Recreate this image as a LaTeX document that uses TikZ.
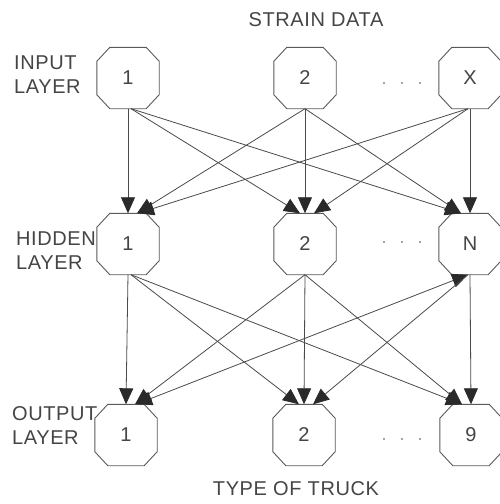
\documentclass[tikz,border=0pt]{standalone}
\usepackage{fontspec}
\setmainfont{Liberation Sans}[LetterSpace=3]
\usetikzlibrary{arrows.meta}
\definecolor{inkline}{HTML}{4A4A4A}
\definecolor{inkhead}{HTML}{2A2A2A}
\definecolor{inktext}{HTML}{454545}
\definecolor{inkbox}{HTML}{5A5A5A}
\begin{document}
\begin{tikzpicture}[x=1pt,y=-1pt,
  neuron/.style={shape=rectangle, minimum width=62pt, minimum height=61pt, inner sep=0pt,
    font=\fontsize{20}{22}\selectfont, text=inktext},
  octo/.style={draw=inkbox, line width=0.9pt, line join=round},
  lbl/.style={font=\fontsize{20}{24}\selectfont, text=inktext, align=left, anchor=west, inner sep=0pt},
  ttl/.style={font=\fontsize{20}{24}\selectfont, text=inktext, inner sep=0pt},
  conn/.style={draw=inkline, line width=0.8pt, -{Triangle[length=16pt,width=14pt,color=inkhead,fill=inkhead]}},
  conn2/.style={draw=inkline, line width=0.8pt, {Triangle[length=16pt,width=14pt,color=inkhead,fill=inkhead]}-{Triangle[length=16pt,width=14pt,color=inkhead,fill=inkhead]}},
  dotmark/.style={fill=inktext, draw=none}
]
\useasboundingbox[fill=white] (0,0) rectangle (499,504);

% nodes
\node[neuron] (i1) at (128,78) {1};
\node[neuron] (i2) at (305,78) {2};
\node[neuron] (iX) at (470,78) {X};
\node[neuron] (h1) at (128,244) {1};
\node[neuron] (h2) at (305,244) {2};
\node[neuron] (hN) at (470,244) {N};
\node[neuron] (o1) at (126,435) {1};
\node[neuron] (o2) at (304,435) {2};
\node[neuron] (o9) at (471,435) {9};

\foreach \n in {i1,i2,iX,h1,h2,hN,o1,o2,o9}{
  \draw[octo] ([xshift=13pt]\n.north west) -- ([xshift=-13pt]\n.north east)
    -- ([yshift=-14pt]\n.north east) -- ([yshift=14pt]\n.south east)
    -- ([xshift=-13pt]\n.south east) -- ([xshift=13pt]\n.south west)
    -- ([yshift=14pt]\n.south west) -- ([yshift=-14pt]\n.north west) -- cycle;
}

% labels
\node[ttl] (tin) at (316,20) {STRAIN DATA};
\node[ttl] (tout) at (296,489) {TYPE OF TRUCK};
\node[lbl] (lin) at (14,75) {INPUT\\LAYER};
\node[lbl] (lhid) at (16,251) {HIDDEN\\LAYER};
\node[lbl] (lout) at (12,426) {OUTPUT\\LAYER};

% dots
\foreach \y in {83,242,439}{
  \foreach \x in {384,402,420}{
    \fill[dotmark] (\x,\y) circle (0.9pt);
  }
}

% input -> hidden
\draw[conn] (i1.south) -- (h1.north);
\draw[conn] ([xshift=3pt]i1.south) -- ([xshift=-5pt]h2.north);
\draw[conn] ([xshift=3pt]i1.south) -- ([xshift=-9pt]hN.north);
\draw[conn] (i2.south) -- ([xshift=9pt]h1.north);
\draw[conn] (i2.south) -- (h2.north);
\draw[conn] (i2.south) -- ([xshift=-9pt]hN.north);
\draw[conn] ([xshift=-2pt]iX.south) -- ([xshift=10pt]h1.north);
\draw[conn] ([xshift=-2pt]iX.south) -- ([xshift=9pt]h2.north);
\draw[conn] (iX.south) -- (hN.north);

% hidden -> output
\draw[conn] (h1.south) -- (o1.north);
\draw[conn] ([xshift=3pt]h1.south) -- ([xshift=-5pt]o2.north);
\draw[conn] ([xshift=3pt]h1.south) -- ([xshift=-9pt]o9.north);
\draw[conn] (h2.south) -- ([xshift=9pt]o1.north);
\draw[conn] (h2.south) -- (o2.north);
\draw[conn] (h2.south) -- ([xshift=-9pt]o9.north);
\draw[conn2] ([xshift=-2pt]hN.south) -- ([xshift=10pt]o1.north);
\draw[conn] ([xshift=-2pt]hN.south) -- ([xshift=9pt]o2.north);
\draw[conn] (hN.south) -- (o9.north);
\end{tikzpicture}
\end{document}
